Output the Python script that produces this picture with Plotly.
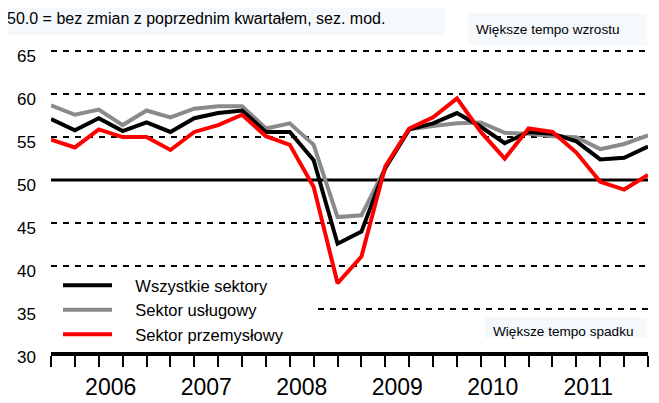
import plotly.graph_objects as go

# kwartały, punkty co kwartał (0 = IV kw. 2005)
okresy = list(range(26))
lata = ['2006', '2007', '2008', '2009', '2010', '2011']
lata_srodek = [2.5, 6.5, 10.5, 14.5, 18.5, 22.5]
lata_granice = [0.5, 4.5, 8.5, 12.5, 16.5, 20.5, 24.5]
y_ticki = [30, 35, 40, 45, 50, 55, 60, 65]
y_siatka = [40, 45, 55, 60, 65]  # 35 jest przerwane przez legendę, 50 ciągłe

wszystkie = [57.1, 55.8, 57.2, 55.7, 56.7, 55.6, 57.2, 57.8, 58.1, 55.6, 55.6, 52.3, 42.6,
             44.0, 51.4, 55.9, 56.6, 57.8, 56.2, 54.3, 55.6, 55.4, 54.5, 52.4, 52.6, 53.9]
uslugi = [58.7, 57.6, 58.2, 56.4, 58.1, 57.3, 58.3, 58.6, 58.6, 56.0, 56.6, 54.1, 45.7,
          45.9, 51.4, 55.9, 56.3, 56.6, 56.7, 55.5, 55.4, 55.1, 55.0, 53.6, 54.2, 55.2]
przemysl = [54.7, 53.8, 55.9, 55.0, 55.0, 53.5, 55.6, 56.4, 57.6, 55.1, 54.1, 49.2, 38.0,
            41.1, 51.6, 56.0, 57.3, 59.5, 55.6, 52.5, 56.0, 55.6, 53.2, 49.8, 48.9, 50.6]

# strona ma 8 px marginesu body, wykres jest o tyle mniejszy
W, H = 651, 395
L, R, T, B = 43, 11, 41, 51
PW, PH = W - L - R, H - T - B


def px(x):
    # x w pikselach strony -> paper
    return (x - 8 - L) / PW


def py(y):
    return (H - B - (y - 8)) / PH


def sciezka(punkty):
    return 'M' + ' L'.join(f'{px(x):.4f},{py(y):.4f}' for x, y in punkty) + ' Z'


ARIAL = 'Liberation Sans, Arial'
ODSTEP = '\u00a0' * 4
KRESKI = '6px,6px'

fig = go.Figure()
fig.add_trace(go.Scatter(x=okresy, y=uslugi, name=ODSTEP + 'Sektor usługowy', mode='lines',
                         line=dict(color='#8a8a8a', width=4), legendrank=2))
fig.add_trace(go.Scatter(x=okresy, y=wszystkie, name=ODSTEP + 'Wszystkie sektory', mode='lines',
                         line=dict(color='black', width=4), legendrank=1))
fig.add_trace(go.Scatter(x=okresy, y=przemysl, name=ODSTEP + 'Sektor przemysłowy', mode='lines',
                         line=dict(color='#ff0000', width=4), legendrank=3))

shapes = [
    dict(type='line', xref='paper', yref='y', x0=0, x1=1, y0=50, y1=50,
         line=dict(color='black', width=3), layer='below'),
    # linia 35 zaczyna się za legendą
    dict(type='line', xref='paper', yref='y', x0=px(318), x1=1, y0=35, y1=35,
         line=dict(color='black', width=2, dash=KRESKI), layer='below'),
    dict(type='rect', xref='paper', yref='paper', x0=px(0), x1=px(445), y0=py(35), y1=py(0),
         fillcolor='#f5f9fc', line_width=0, layer='below'),
    dict(type='rect', xref='paper', yref='paper', x0=px(468), x1=px(647), y0=py(45), y1=py(13),
         fillcolor='#f5f9fc', line_width=0, layer='below'),
    dict(type='rect', xref='paper', yref='paper', x0=px(485), x1=px(647), y0=py(338), y1=py(317),
         fillcolor='#f5f9fc', line_width=0, layer='below'),
    dict(type='line', xref='paper', yref='paper', x0=px(658), x1=px(658), y0=py(72), y1=py(168),
         line=dict(color='#c0c0c0', width=1)),
    dict(type='path', xref='paper', yref='paper', path=sciezka([(652, 72), (664, 72), (658, 44)]),
         fillcolor='black', line_width=0),
    dict(type='path', xref='paper', yref='paper', path=sciezka([(654, 326), (664, 326), (659, 346)]),
         fillcolor='black', line_width=0),
]

annotations = [
    dict(text='50.0 = bez zmian z poprzednim kwartałem, sez. mod.', xref='paper', yref='paper',
         x=px(5), y=py(19), xanchor='left', yanchor='middle', showarrow=False,
         font=dict(family=ARIAL, size=16, color='black')),
    dict(text='Większe tempo wzrostu', xref='paper', yref='paper', x=px(548), y=py(29),
         xanchor='center', yanchor='middle', showarrow=False,
         font=dict(family=ARIAL, size=13.6, color='black')),
    dict(text='Większe tempo spadku', xref='paper', yref='paper', x=px(563), y=py(331),
         xanchor='center', yanchor='middle', showarrow=False,
         font=dict(family=ARIAL, size=13.6, color='black')),
]

fig.update_layout(
    width=W, height=H,
    margin=dict(l=L, r=R, t=T, b=B, autoexpand=False),
    paper_bgcolor='white', plot_bgcolor='white',
    showlegend=True,
    legend=dict(x=px(58), y=py(268), xanchor='left', yanchor='top', bgcolor='rgba(0,0,0,0)',
                font=dict(family=ARIAL, size=16.5, color='black'), itemwidth=49,
                tracegroupgap=0),
    xaxis=dict(range=[0, 25], tickmode='array', tickvals=lata_srodek, ticktext=lata,
               ticks='', showgrid=False, zeroline=False, automargin=False,
               showline=True, linecolor='black', linewidth=4, ticklabelstandoff=11,
               tickfont=dict(family=ARIAL, size=23, color='black'),
               minor=dict(tickmode='array', tickvals=okresy, ticks='outside', ticklen=11,
                          tickwidth=2, tickcolor='black', showgrid=False)),
    xaxis2=dict(range=[0, 25], overlaying='x', anchor='y', side='bottom', tickmode='array',
                tickvals=lata_granice, ticks='outside', ticklen=34, tickwidth=2,
                tickcolor='black', showticklabels=False, showgrid=False, zeroline=False,
                showline=False, automargin=False),
    yaxis=dict(range=[30, 65.25], tickmode='array', tickvals=y_ticki,
               ticks='', showgrid=False, zeroline=False, showline=False,
               ticklabelstandoff=14, ticklabelshift=5, automargin=False,
               tickfont=dict(family=ARIAL, size=17, color='black'),
               minor=dict(tickmode='array', tickvals=y_siatka, ticks='', showgrid=True,
                          gridcolor='black', gridwidth=2, griddash=KRESKI)),
    shapes=shapes,
    annotations=annotations,
)

fig.write_html('out.html')
